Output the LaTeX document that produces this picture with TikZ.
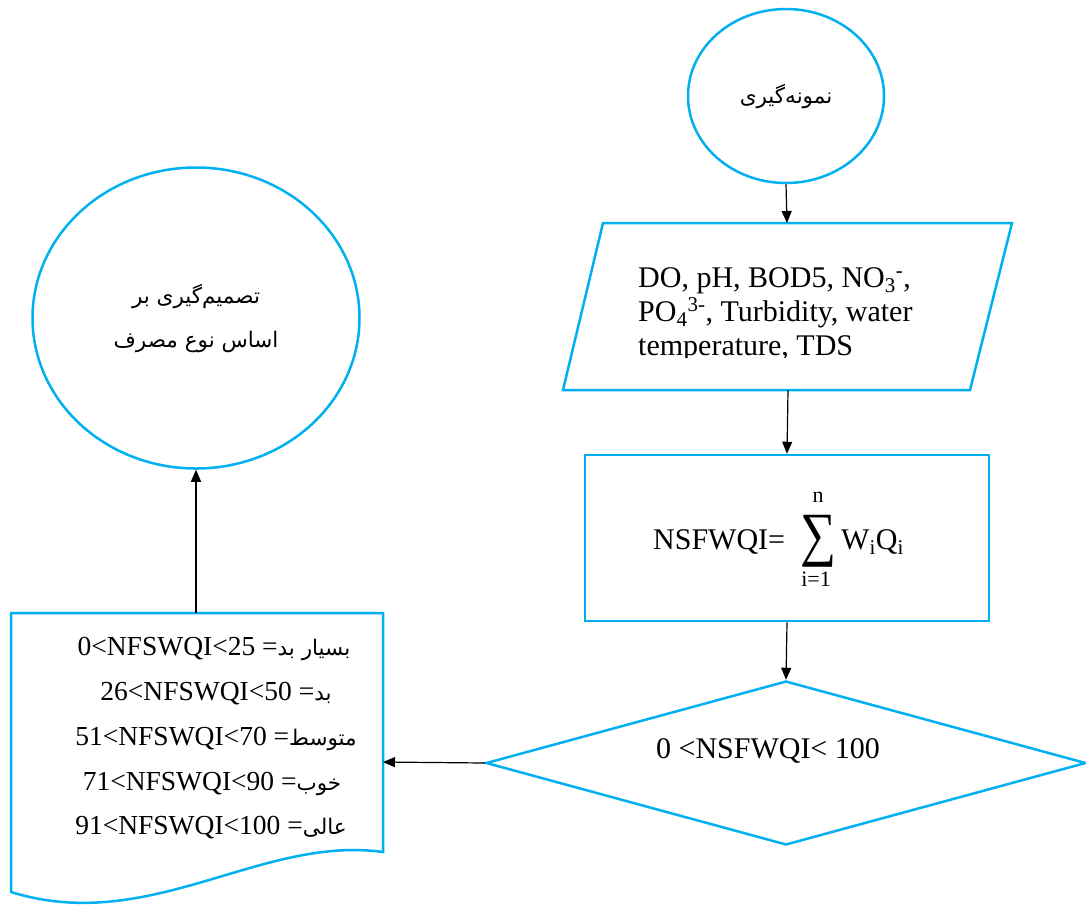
\documentclass[tikz,border=0pt]{standalone}
\usepackage{fontspec}
\setmainfont{Liberation Serif}
\newfontfamily\fa[Script=Arabic]{DejaVu Sans}
\TeXXeTstate=1
\usetikzlibrary{shapes.geometric,arrows.meta}
\definecolor{fcblue}{RGB}{0,176,240}
\begin{document}
\begin{tikzpicture}[x=1pt,y=-1pt,
  shapeline/.style={draw=fcblue,line width=2.5pt},
  arr/.style={-{Triangle[length=12pt,width=10pt]},line width=1.2pt,black},
  lat/.style={font=\fontsize{30}{34}\selectfont,inner sep=0pt},
  doctext/.style={font=\fontsize{27.5}{32}\selectfont,inner sep=0pt,anchor=base},
  small/.style={font=\fontsize{22}{24}\selectfont,inner sep=0pt,anchor=base},
  fatext/.style={font=\fa\fontsize{21.5}{44}\selectfont,align=center},
  ell/.style={ellipse,shapeline,inner sep=0pt}]
\useasboundingbox (0,0) rectangle (1086,906);

% start ellipse
\node[ell,fatext,minimum width=196pt,minimum height=174pt] (start) at (786,96)
  {\beginR نمونه‌گیری\endR};

% decision ellipse
\node[ell,fatext,minimum width=327pt,minimum height=301pt] (decide) at (196,318)
  {\beginR تصمیم‌گیری بر\endR\\\beginR اساس نوع مصرف\endR};

% parallelogram (input)
\draw[shapeline] (603,223) -- (1012,223) -- (970,390) -- (563,390) -- cycle;
\coordinate (pTop) at (787,223);
\coordinate (pBot) at (788,390);
\node[lat,anchor=base west] (in1) at (638,287) {DO, pH, BOD5, NO\textsubscript{3}\textsuperscript{-},};
\node[lat,anchor=base west] (in2) at (638,321) {PO\textsubscript{4}\textsuperscript{3-}, Turbidity, water};
\begin{scope}
  \clip (600,325) rectangle (1000,357);
  \node[lat,anchor=base west] (in3) at (638,355) {temperature, TDS};
\end{scope}

% process rectangle
\node[shapeline,rectangle,minimum width=404pt,minimum height=166pt,inner sep=0pt] (calc) at (787,538) {};
\node[lat,anchor=base west] (nsf) at (653,549) {NSFWQI=};
\node[inner sep=0pt] (sum) at (818,541) {\resizebox*{36pt}{52pt}{∑}};
\node[small] (sumtop) at (818,502) {n};
\node[small] (sumbot) at (816,586) {i=1};
\node[lat,anchor=base west] (wq) at (841,549) {W\textsubscript{i}Q\textsubscript{i}};

% decision diamond
\node[diamond,shapeline,minimum width=600pt,minimum height=164pt,inner sep=0pt] (dec) at (786,763) {};
\node[lat,anchor=base] (decT) at (768,758) {0 <NSFWQI< 100};

% document shape
\draw[shapeline] (11,613) -- (383,613) -- (383,852)
  .. controls (260,835) and (150,935) .. (11,892) -- cycle;
\coordinate (docT) at (196,613);
\coordinate (docR) at (383,762);
\node[doctext] (r1) at (214,655) {0<NFSWQI<25 ={\fa\fontsize{21.5}{24}\selectfont\beginR بسیار بد\endR}};
\node[doctext] (r2) at (216,700) {26<NFSWQI<50 ={\fa\fontsize{21.5}{24}\selectfont\beginR بد\endR}};
\node[doctext] (r3) at (216,745) {51<NFSWQI<70 ={\fa\fontsize{21.5}{24}\selectfont\beginR متوسط\endR}};
\node[doctext] (r4) at (212,790) {71<NFSWQI<90 ={\fa\fontsize{21.5}{24}\selectfont\beginR خوب\endR}};
\node[doctext] (r5) at (211,834) {91<NFSWQI<100 ={\fa\fontsize{21.5}{24}\selectfont\beginR عالی\endR}};

% connectors
\draw[arr] (start.south) -- (pTop);
\draw[arr] (pBot) -- (calc.north);
\draw[arr] (calc.south) -- (dec.north);
\draw[arr] (dec.west) -- (docR);
\draw[arr] (docT) -- (decide.south);
\end{tikzpicture}
\end{document}
